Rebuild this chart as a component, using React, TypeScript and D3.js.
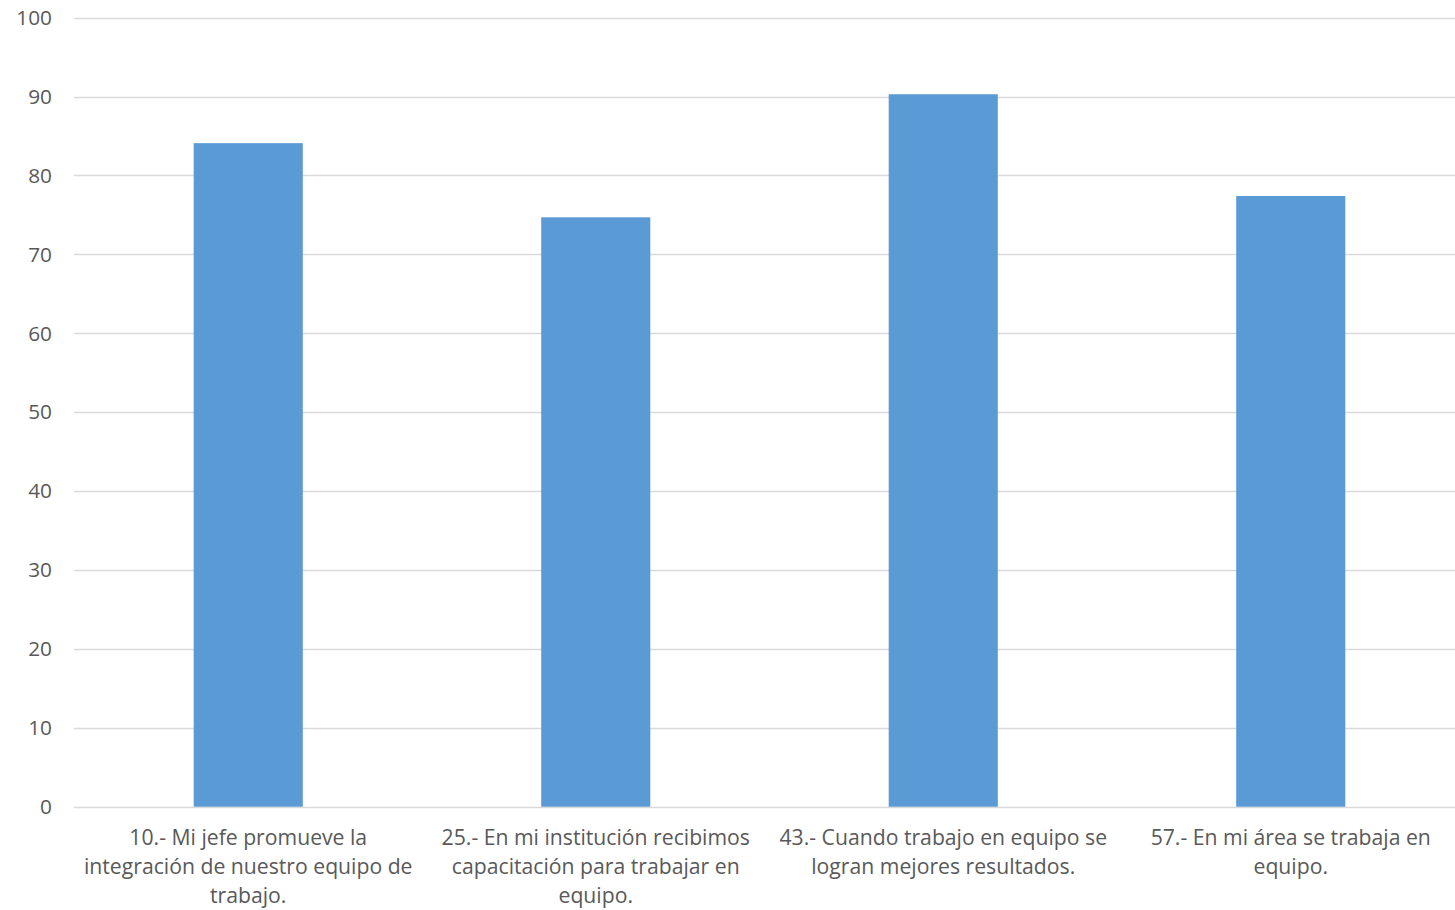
import React from "react";
import * as d3 from "d3";

const categories = ["q10", "q25", "q43", "q57"];
const values = [84.1, 74.7, 90.3, 77.4];
const labelLines = [
  ["10.- Mi jefe promueve la", "integración de nuestro equipo de", "trabajo."],
  ["25.- En mi institución recibimos", "capacitación para trabajar en", "equipo."],
  ["43.- Cuando trabajo en equipo se", "logran mejores resultados."],
  ["57.- En mi área se trabaja en", "equipo."],
];
const yTicks = [0, 10, 20, 30, 40, 50, 60, 70, 80, 90, 100];

export default function App() {
  const W = 1455, H = 910;
  const x = d3.scaleBand<string>().domain(categories).range([74.5, 1464.5]).paddingInner(0.686).paddingOuter(0.343);
  const y = d3.scaleLinear().domain([0, 100]).range([806.7, 17.7]);
  const font = "'Open Sans', sans-serif";
  return (
    <svg width={W} height={H} style={{ position: "absolute", left: 0, top: 0, background: "#fff" }}>
      {yTicks.map((t) => (
        <g key={t}>
          <line x1={74} x2={W} y1={Math.round(y(t)) + 0.5} y2={Math.round(y(t)) + 0.5} stroke="#d9d9d9" strokeWidth={1.3} />
          <text x={52} y={y(t)} dy="0.35em" textAnchor="end" fontFamily={font} fontSize={20.8} fill="#595959">{t}</text>
        </g>
      ))}
      {categories.map((c, i) => (
        <rect key={c} x={x(c)} width={x.bandwidth()} y={y(values[i])} height={y(0) - y(values[i])} fill="#5b9bd5" />
      ))}
      {categories.map((c, i) => (
        <text key={c} textAnchor="middle" fontFamily={font} fontSize={21.2} fill="#595959">
          {labelLines[i].map((l, j) => (
            <tspan key={j} x={(x(c) as number) + x.bandwidth() / 2} y={845 + j * 29}>{l}</tspan>
          ))}
        </text>
      ))}
    </svg>
  );
}
